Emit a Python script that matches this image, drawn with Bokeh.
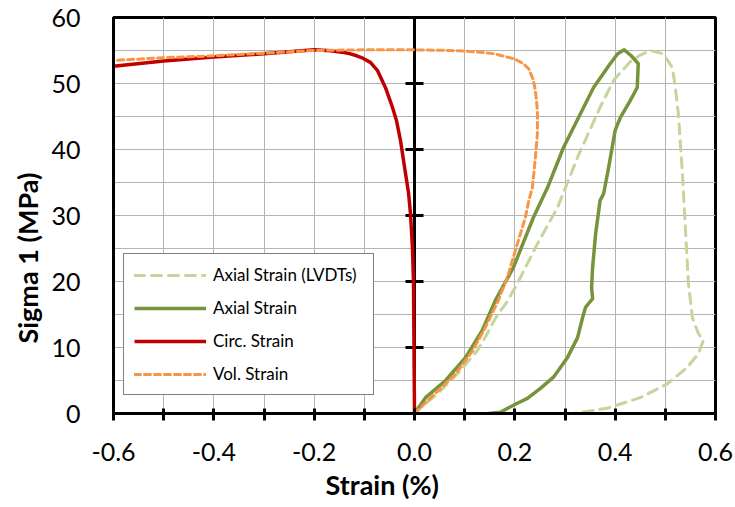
from bokeh.plotting import figure
from bokeh.models import FixedTicker, Span, Legend, LegendItem, PrintfTickFormatter, Range1d, Title
from bokeh.embed import file_html
from bokeh.resources import INLINE

# ---- data ----
lvdt_x = [0.0, 0.022, 0.046, 0.068, 0.092, 0.108, 0.125, 0.145, 0.161, 0.185, 0.205, 0.245, 0.285,
          0.325, 0.37, 0.397, 0.43, 0.45, 0.47, 0.496, 0.514, 0.52, 0.526, 0.53, 0.534, 0.538,
          0.546, 0.554, 0.566, 0.576, 0.566, 0.544, 0.504, 0.45, 0.384, 0.317]
lvdt_y = [0.0, 1.5, 3.0, 4.7, 6.5, 8.0, 9.5, 12.1, 14.4, 17.0, 19.7, 25.7, 31.2,
          38.8, 46.4, 50.5, 53.3, 54.3, 55.0, 54.5, 52.4, 49.4, 45.4, 40.9, 36.4, 30.8,
          19.7, 14.5, 12.1, 11.1, 9.1, 7.0, 4.5, 2.4, 0.8, 0.0]

axial_x = [0.0, 0.022, 0.062, 0.102, 0.135, 0.161, 0.197, 0.237, 0.265, 0.297, 0.324, 0.357, 0.39,
           0.405, 0.418, 0.432, 0.446, 0.444, 0.43, 0.41, 0.4, 0.394, 0.387, 0.377, 0.37, 0.361,
           0.355, 0.353, 0.355, 0.341, 0.335, 0.325, 0.305, 0.277, 0.251, 0.225, 0.201, 0.171, 0.148]
axial_y = [0.0, 2.4, 5.0, 8.5, 12.6, 17.1, 22.1, 29.7, 34.2, 40.3, 44.4, 49.4, 53.0,
           54.5, 55.1, 54.2, 53.0, 49.4, 47.4, 44.8, 42.9, 40.3, 37.3, 33.3, 32.3, 27.2,
           22.1, 19.1, 17.4, 16.1, 14.5, 11.5, 8.5, 5.5, 3.8, 2.3, 1.4, 0.2, 0.0]

circ_x = [0.0, -0.001, -0.002, -0.004, -0.008, -0.012, -0.018, -0.028, -0.036, -0.044, -0.058,
          -0.074, -0.088, -0.102, -0.115, -0.128, -0.145, -0.167, -0.2, -0.25, -0.3, -0.4, -0.5, -0.6]
circ_y = [0.0, 10.0, 20.0, 25.0, 30.3, 33.5, 36.4, 41.4, 44.4, 46.4, 49.4,
          52.0, 53.2, 53.8, 54.2, 54.5, 54.75, 54.95, 55.1, 54.8, 54.5, 54.0, 53.4, 52.6]

vol_x = [0.0, 0.02, 0.048, 0.082, 0.116, 0.141, 0.167, 0.185, 0.205, 0.221, 0.228, 0.235, 0.241,
         0.245, 0.245, 0.241, 0.237, 0.228, 0.217, 0.2, 0.185, 0.16, 0.137, 0.1, 0.072, 0.0,
         -0.1, -0.2, -0.3, -0.4, -0.5, -0.6]
vol_y = [0.0, 1.5, 3.5, 6.0, 9.5, 13.0, 17.1, 20.6, 25.7, 29.7, 32.3, 34.2, 38.8,
         42.4, 45.9, 48.9, 50.5, 52.2, 53.0, 53.7, 54.0, 54.5, 54.7, 54.9, 55.0, 55.1,
         55.1, 55.0, 54.6, 54.2, 53.9, 53.5]

x_ticks = [-0.6, -0.4, -0.2, 0.0, 0.2, 0.4, 0.6]
x_minor = [-0.5, -0.3, -0.1, 0.1, 0.3, 0.5]
x_grid = [-0.5, -0.4, -0.3, -0.2, -0.1, 0.0, 0.1, 0.2, 0.3, 0.4, 0.5]
y_ticks = [0, 10, 20, 30, 40, 50, 60]
y_grid = [5, 10, 15, 20, 25, 30, 35, 40, 45, 50, 55]

names = ["Axial Strain (LVDTs)", "Axial Strain", "Circ. Strain", "Vol. Strain"]
colors = ["#C3D69B", "#77933C", "#C00000", "#F79646"]
x_title = "Strain (%)"
y_title = "Sigma 1 (MPa)"

FONT = "Lato"

p = figure(width=735, height=507, x_range=Range1d(-0.6, 0.6), y_range=Range1d(0, 60),
           output_backend="svg", toolbar_location=None,
           min_border_left=113, min_border_right=20, min_border_top=17, min_border_bottom=94)
p.background_fill_color = "white"
p.border_fill_color = "white"
p.outline_line_color = "black"
p.outline_line_width = 3

# grids
p.xgrid.ticker = FixedTicker(ticks=x_grid)
p.ygrid.ticker = FixedTicker(ticks=y_grid)
for g in (p.xgrid, p.ygrid):
    g.grid_line_color = "#B4B4B4"
    g.grid_line_width = 1

# x axis
xa = p.xaxis[0]
xa.ticker = FixedTicker(ticks=x_ticks, minor_ticks=x_minor)
xa.formatter = PrintfTickFormatter(format="%.1f")
xa.axis_line_width = 3
xa.major_tick_in = 5
xa.major_tick_out = 7
xa.minor_tick_in = 5
xa.minor_tick_out = 7
xa.major_tick_line_width = 3
xa.minor_tick_line_width = 3
xa.major_label_text_font = FONT
xa.major_label_text_font_size = "25px"
xa.major_label_text_color = "black"
xa.major_label_standoff = 22

# y axis (labels on the left, ticks on the axis at x = 0)
ya = p.yaxis[0]
ya.ticker = FixedTicker(ticks=y_ticks)
ya.axis_line_width = 3
ya.major_tick_line_color = None
ya.minor_tick_line_color = None
ya.major_label_text_font = FONT
ya.major_label_text_font_size = "25px"
ya.major_label_text_color = "black"
ya.major_label_standoff = 27

# axis titles as side titles (positioned as in the reference)
p.add_layout(Title(text=x_title, align="left", offset=212, text_font=FONT, text_font_style="bold",
                   text_font_size="27px", text_color="black", standoff=5), "below")
p.add_layout(Title(text=y_title, align="left", offset=70, text_font=FONT, text_font_style="bold",
                   text_font_size="27px", text_color="black", standoff=10), "left")

# vertical axis line at x = 0 with its ticks
p.add_layout(Span(location=0, dimension="height", line_color="black", line_width=3, level="underlay"))
p.scatter(x=[0] * len(y_ticks), y=y_ticks, marker="dash", size=18, line_width=3, line_color="black")

r_lvdt = p.line(lvdt_x, lvdt_y, line_color=colors[0], line_width=3, line_dash="10 7", line_cap="round")
r_axial = p.line(axial_x, axial_y, line_color=colors[1], line_width=3.5, line_join="round")
r_circ = p.line(circ_x, circ_y, line_color=colors[2], line_width=3.5, line_join="round")
r_vol = p.line(vol_x, vol_y, line_color=colors[3], line_width=3, line_dash="6 4", line_cap="round")

legend = Legend(items=[LegendItem(label=names[0], renderers=[r_lvdt]),
                       LegendItem(label=names[1], renderers=[r_axial]),
                       LegendItem(label=names[2], renderers=[r_circ]),
                       LegendItem(label=names[3], renderers=[r_vol])],
                location=(10, 18))
legend.label_text_font = FONT
legend.label_text_font_size = "17px"
legend.label_text_color = "black"
legend.glyph_width = 72
legend.glyph_height = 20
legend.label_height = 20
legend.label_width = 150
legend.label_standoff = 7
legend.spacing = 12
legend.padding = 10
legend.margin = 0
legend.border_line_color = "black"
legend.border_line_width = 1.5
legend.background_fill_color = "white"
legend.background_fill_alpha = 1
p.add_layout(legend)

open("out.html", "w").write(file_html(p, INLINE))
